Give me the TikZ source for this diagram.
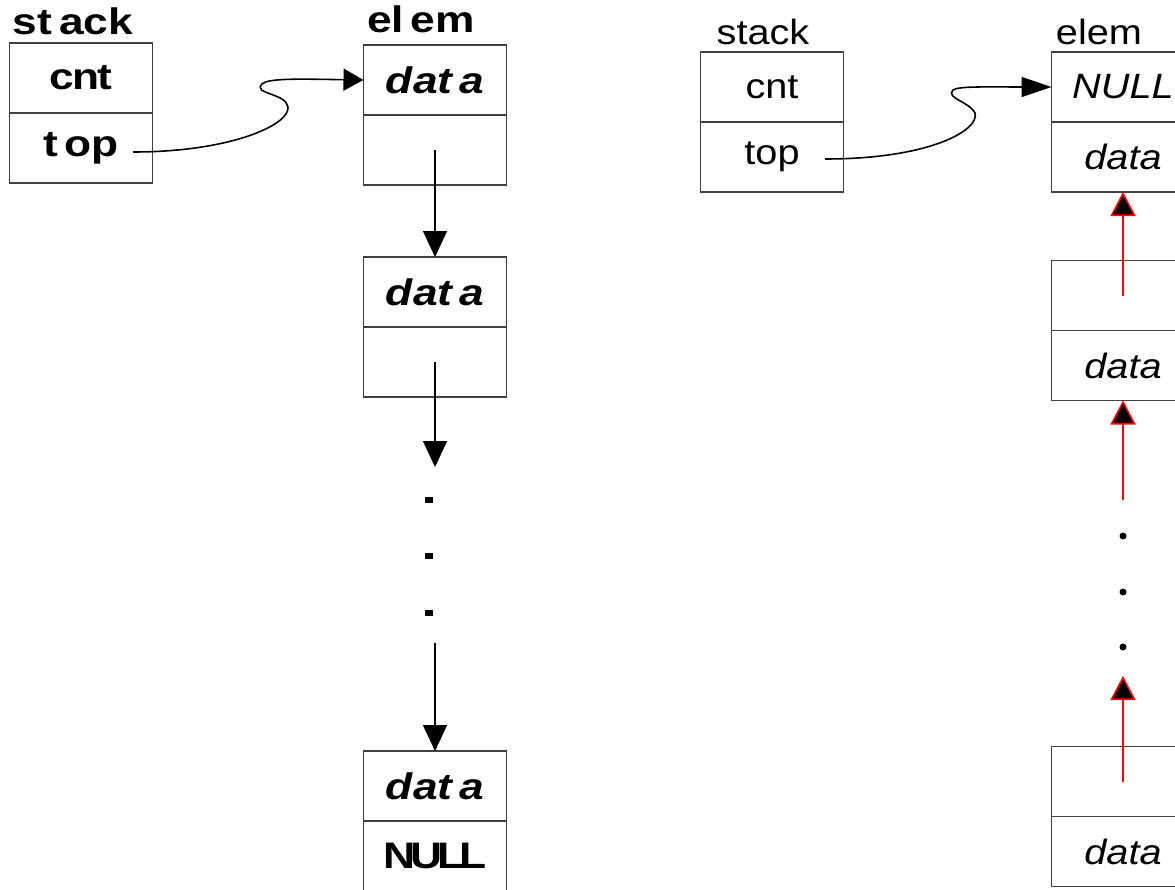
\documentclass[tikz,border=0pt]{standalone}
\usepackage{fontspec}
\setmainfont{Liberation Sans}
\newfontfamily\boldwide[FakeStretch=1.2]{Liberation Sans}
\newfontfamily\plainwide[FakeStretch=1.13]{Liberation Sans}
\usetikzlibrary{arrows.meta,positioning}

\begin{document}
\begin{tikzpicture}[
  every node/.style={font=\fontsize{10}{12}\selectfont},
  cell/.style={draw=black!75, line width=0.5pt, minimum width=1.43cm,
    minimum height=0.70cm, inner sep=0pt, outer sep=0pt},
  heavy/.style={font=\fontsize{10.5}{12}\selectfont\boldwide\bfseries},
  light/.style={font=\fontsize{10}{12}\selectfont\plainwide},
  ptr/.style={-{Triangle[length=0.26cm,width=0.24cm]}, line width=0.45pt},
  backptr/.style={red, line width=0.45pt,
    -{Triangle[length=0.24cm,width=0.25cm,fill=black]}}
]

\path[use as bounding box] (0,0) rectangle (11.75,-8.89);
\clip (0,0) rectangle (11.75,-8.89);

% Singly linked stack, top pointer goes down the chain.
\node[heavy, anchor=base] (lstack) at (0.73,-0.34) {st\kern2pt ack};
\node[heavy, anchor=base] (lelem) at (4.21,-0.33) {el\kern2pt em};

\node[cell, heavy] (lcnt) at (0.81,-0.78) {c\kern-0.5pt n\kern-0.5pt t};
\node[cell, heavy, below=0pt of lcnt] (ltop) {t\kern2pt op};

\node[cell, heavy] (ldata1) at (4.35,-0.80) {\itshape dat\kern2pt a};
\node[cell, below=0pt of ldata1] (lnext1) {};
\node[cell, heavy] (ldata2) at (4.35,-2.92) {\itshape dat\kern2pt a};
\node[cell, below=0pt of ldata2] (lnext2) {};
\node[cell, heavy] (ldata3) at (4.35,-7.86) {\itshape dat\kern2pt a};
\node[cell, heavy, below=0pt of ldata3] (lnull)
  {N\kern-1.5pt U\kern-1.5pt L\kern-1.5pt L};

\coordinate (lptr) at (1.33,-1.52);
\coordinate (lgap1) at (4.35,-4.67);
\coordinate (lgap2) at (4.35,-6.43);

\draw[-{Triangle[length=0.20cm,width=0.22cm]}, line width=0.45pt]
  (lptr) .. controls (2.30,-1.52) and (2.90,-1.25) .. (2.88,-1.07)
  .. controls (2.86,-0.93) and (2.52,-0.94) .. (2.62,-0.84)
  .. controls (2.68,-0.78) and (3.00,-0.79) .. (ldata1.west);
\draw[ptr] (lnext1.center) -- (ldata2.north);
\draw[ptr] (lnext2.center) -- (lgap1);
\draw[ptr] (lgap2) -- (ldata3.north);

\foreach \y in {5.00, 5.56, 6.13} {
  \fill (4.25,-\y+0.03) rectangle (4.33,-\y-0.03);
}

% Same stack, links pointing back towards the top.
\node[light, anchor=base] (rstack) at (7.63,-0.44) {stack};
\node[light, anchor=base] (relem) at (10.99,-0.44) {elem};

\node[cell, light] (rcnt) at (7.72,-0.87) {cnt};
\node[cell, light, below=0pt of rcnt] (rtop) {top};

\node[cell, light] (rnull) at (11.23,-0.87) {\itshape NULL};
\node[cell, light, below=0pt of rnull] (rdata1) {\itshape data};
\node[cell] (rnext2) at (11.23,-2.955) {};
\node[cell, light, below=0pt of rnext2] (rdata2) {\itshape data};
\node[cell] (rnext3) at (11.23,-7.815) {};
\node[cell, light, below=0pt of rnext3] (rdata3) {\itshape data};

\coordinate (rptr) at (8.25,-1.59);
\coordinate (rgap1) at (11.23,-5.00);
\coordinate (rgap2) at (11.23,-6.76);

\draw[-{Triangle[length=0.30cm,width=0.20cm]}, line width=0.45pt]
  (rptr) .. controls (9.30,-1.59) and (9.80,-1.30) .. (9.75,-1.13)
  .. controls (9.70,-1.02) and (9.45,-0.98) .. (9.53,-0.90)
  .. controls (9.58,-0.86) and (9.90,-0.87) .. (rnull.west);
\draw[backptr] (rnext2.center) -- (rdata1.south);
\draw[backptr] (rgap1) -- (rdata2.south);
\draw[backptr] (rnext3.center) -- (rgap2);

\foreach \y in {5.36, 5.92, 6.47} {
  \fill (11.23,-\y) circle (0.035);
}

\end{tikzpicture}
\end{document}
